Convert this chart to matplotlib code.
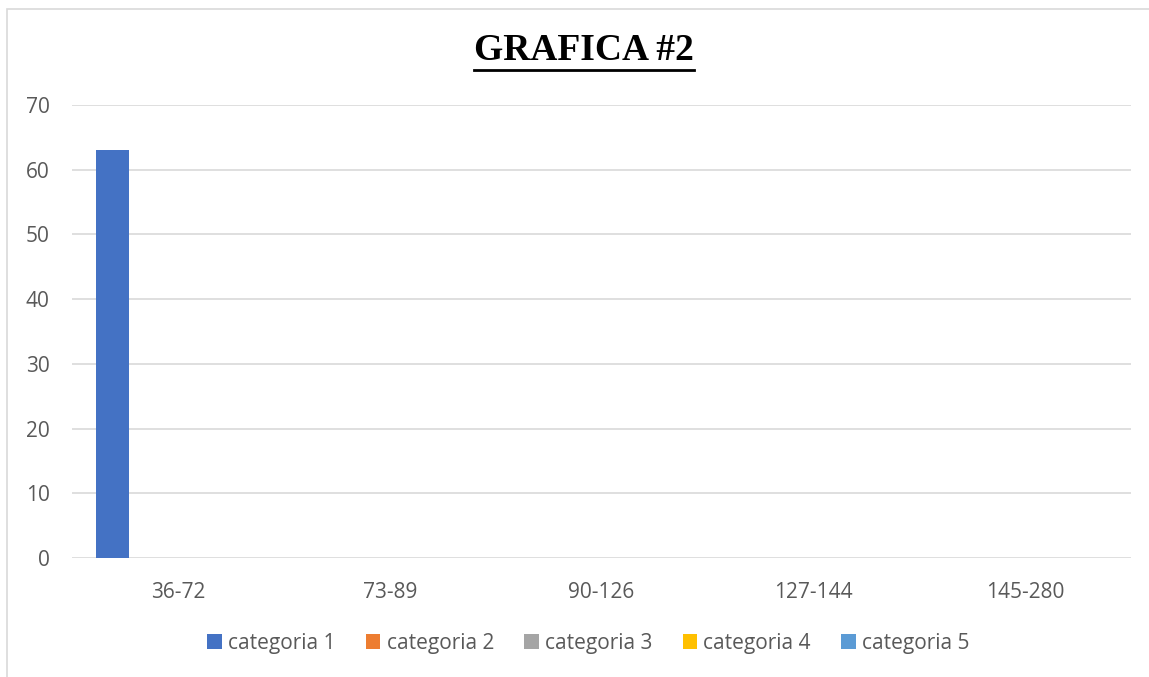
import numpy as np
import matplotlib.pyplot as plt
from matplotlib.patches import Rectangle

rangos = ["36-72", "73-89", "90-126", "127-144", "145-280"]
series = ["categoria 1", "categoria 2", "categoria 3", "categoria 4", "categoria 5"]
cat1 = [63, 0, 0, 0, 0]
cat2 = [0, 0, 0, 0, 0]
cat3 = [0, 0, 0, 0, 0]
cat4 = [0, 0, 0, 0, 0]
cat5 = [0, 0, 0, 0, 0]
valores = [cat1, cat2, cat3, cat4, cat5]
colores = ["#4472C4", "#ED7D31", "#A5A5A5", "#FFC000", "#5B9BD5"]

fig = plt.figure(figsize=(11.49, 6.77), dpi=100)
ax = fig.add_axes([0.0627, 0.1758, 0.9216, 0.6691])

x = np.arange(len(rangos))
w = 0.155
for i, (nombre, vals) in enumerate(zip(series, valores)):
    ax.bar(x + (i - 2) * w, vals, w, color=colores[i], label=nombre, zorder=3)

ax.set_xlim(-0.5, len(rangos) - 0.5)
ax.set_ylim(0, 70)
ax.set_yticks(range(0, 71, 10))
ax.set_xticks(x)
ax.set_xticklabels(rangos)
ax.grid(axis="y", color="#D9D9D9", linewidth=1.2, zorder=0)
for s in ax.spines.values():
    s.set_visible(False)
ax.tick_params(length=0, labelsize=15, labelcolor="#595959")
ax.tick_params(axis="y", pad=16)
ax.tick_params(axis="x", pad=17)
for t in ax.get_xticklabels() + ax.get_yticklabels():
    t.set_family("Open Sans")

fig.text(0.508, 0.925, "GRAFICA #2", ha="center", va="center",
         fontsize=27, fontweight="bold", family="Liberation Serif", color="black")
# subrayado
fig.add_artist(plt.Line2D([0.4125, 0.604], [0.897, 0.897], color="black", linewidth=2))

leg = fig.legend(loc="center", bbox_to_anchor=(0.512, 0.05), ncol=5, frameon=False,
                 handlelength=0.7, handleheight=0.7, handletextpad=0.3, columnspacing=1.45,
                 prop={"family": "Open Sans", "size": 15})
for t in leg.get_texts():
    t.set_color("#595959")

fig.add_artist(Rectangle((7 / 1149, -0.05), 1.1, 1 - 9 / 677 + 0.05, transform=fig.transFigure,
                         fill=False, edgecolor="#D9D9D9", linewidth=1.2))

fig.savefig("out.png", dpi=100)
